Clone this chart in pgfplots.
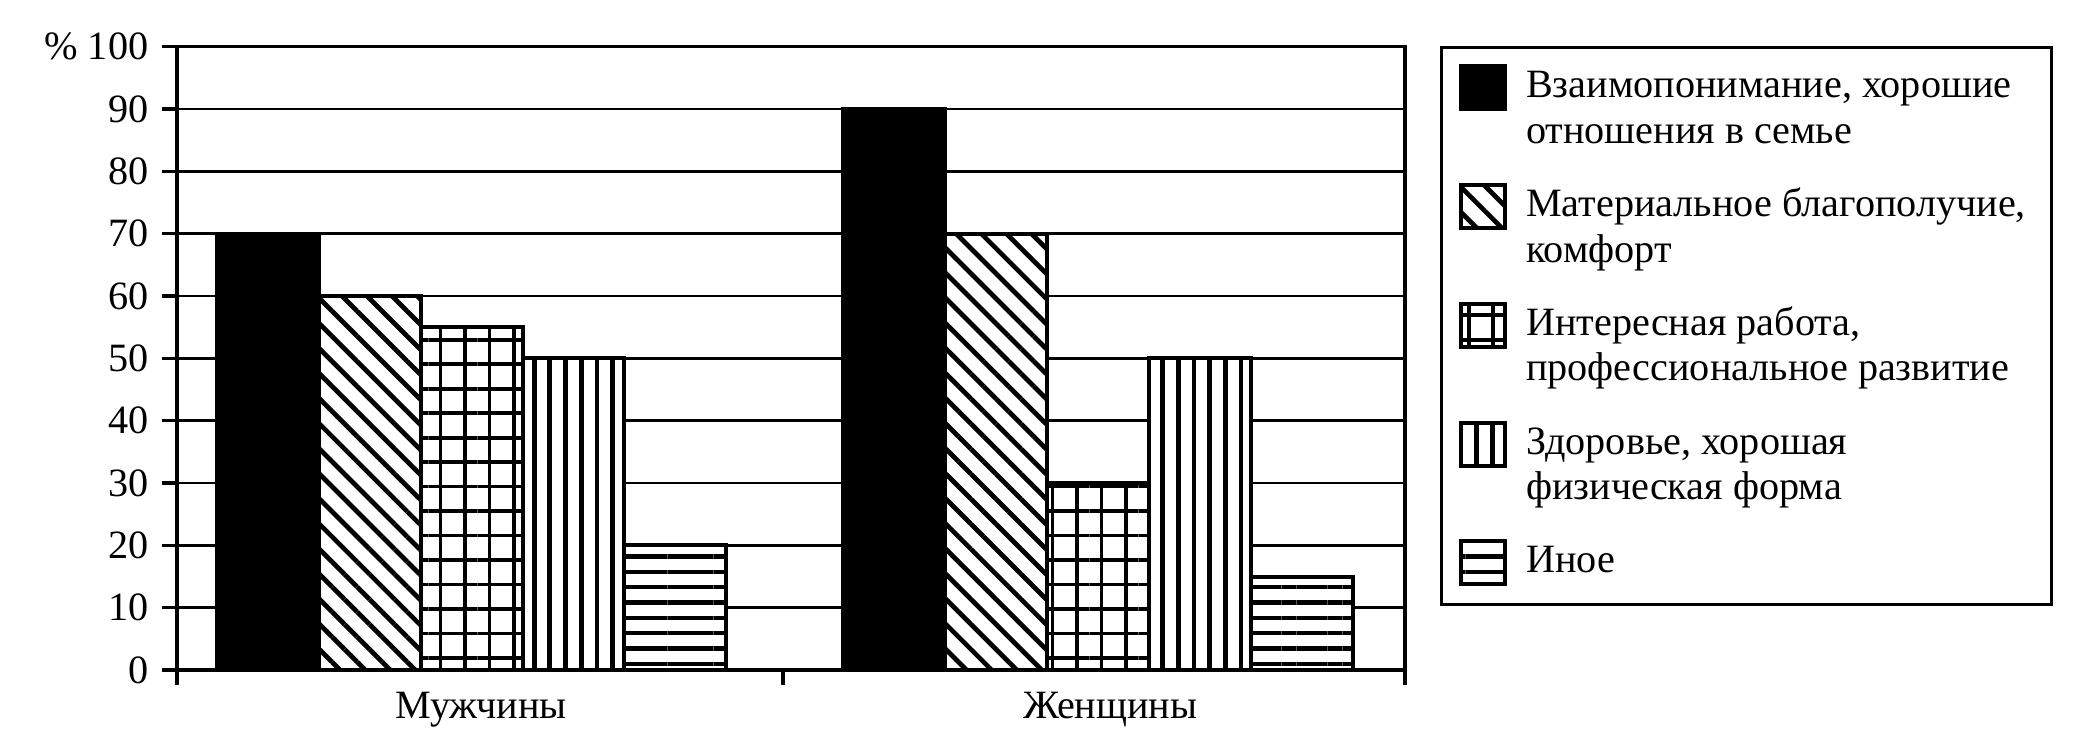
\documentclass[border=0pt]{standalone}
\usepackage{fontspec}
\setmainfont{Liberation Serif}
\usepackage{pgfplots}
\pgfplotsset{compat=1.18}
\usetikzlibrary{patterns.meta}
\begin{document}
\fontsize{11}{12.5}\selectfont
\begin{tikzpicture}
\useasboundingbox (-48.45pt,-23.5pt) rectangle (520.6pt,183.4pt);
\begin{axis}[
  at={(0pt,0pt)}, anchor=south west,
  width=336.1pt, height=170.6pt, scale only axis,
  xmin=-0.5, xmax=1.5, ymin=0, ymax=100,
  ybar=0pt, bar width=27.87pt,
  ytick={0,10,...,100},
  yticklabels={0,10,20,30,40,50,60,70,80,90,\% 100},
  xtick={-0.5,0.487,1.5},
  xticklabels={,,},
  extra x ticks={-0.005,1.02},
  extra x tick labels={Мужчины,Женщины},
  extra x tick style={major tick length=0pt, grid=none,
    tick label style={yshift=-2.3pt}},
  tick align=outside, tick pos=left,
  major tick length=4pt,
  ymajorgrids,
  grid style={black, line width=0.7pt},
  axis line style={black, line width=0.9pt},
  every tick/.style={black, line width=0.9pt},
  tick label style={font=\fontsize{11}{12.5}\selectfont},
  /pgf/number format/assume math mode=true,
  legend style={
    at={(1.0285,1.001)}, anchor=north west,
    draw=black, line width=0.8pt,
    inner xsep=4.9pt, inner ysep=3pt,
    row sep=3.5pt, column sep=3.2pt,
    nodes={inner sep=2pt, text depth=},
    cells={anchor=base west},
    font=\fontsize{11}{12.5}\selectfont,
  },
  legend image code/.code={\draw[#1, line width=1.1pt] (0pt,-3.15pt) rectangle (12pt,8.6pt);},
]
\addplot[draw=black, fill=black, line width=1.1pt] coordinates {(-0.02,70) (1,90)};
\addlegendentry{\parbox[t]{137pt}{\strut Взаимопонимание, хорошие\\отношения в семье\strut}}
\addplot[draw=black, line width=1.1pt, preaction={fill=white},
  pattern={Lines[angle=-45,distance=4.85pt,line width=1.3pt]}] coordinates {(-0.02,60) (1,70)};
\addlegendentry{\parbox[t]{137pt}{\strut Материальное благополучие,\\комфорт\strut}}
\addplot[draw=black, line width=1.1pt, preaction={fill=white},
  pattern={Hatch[angle=0,distance=6.7pt,line width=1pt]}] coordinates {(-0.02,55) (1,30)};
\addlegendentry{\parbox[t]{137pt}{\strut Интересная работа,\\профессиональное развитие\strut}}
\addplot[draw=black, line width=1.1pt, preaction={fill=white},
  pattern={Lines[angle=90,distance=4.3pt,line width=1.3pt]}] coordinates {(-0.02,50) (1,50)};
\addlegendentry{\parbox[t]{137pt}{\strut Здоровье, хорошая\\физическая форма\strut}}
\addplot[draw=black, line width=1.1pt, preaction={fill=white},
  pattern={Lines[angle=0,distance=4.2pt,line width=1.2pt]}] coordinates {(-0.02,20) (1,15)};
\addlegendentry{\parbox[t]{137pt}{\strut Иное\strut}}
\end{axis}
\end{tikzpicture}
\end{document}
